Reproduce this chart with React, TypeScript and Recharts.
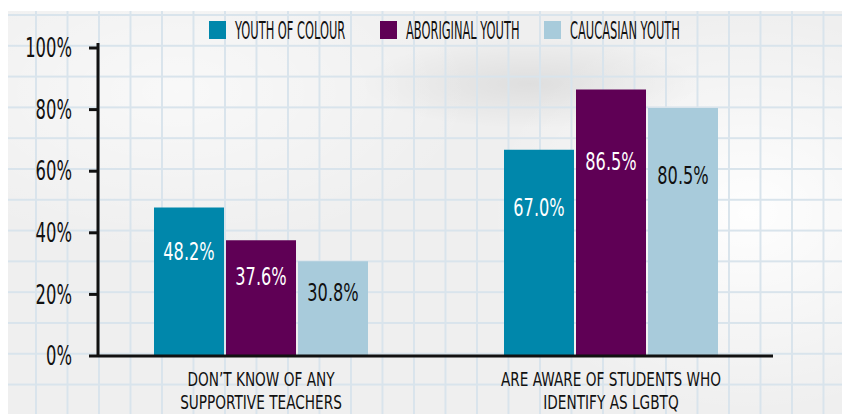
import React from "react";
import { Bar, BarChart, LabelList, Legend, XAxis, YAxis } from "recharts";

const categories = [
  "DON’T KNOW OF ANY\nSUPPORTIVE TEACHERS",
  "ARE AWARE OF STUDENTS WHO\nIDENTIFY AS LGBTQ"
];
const youthOfColour = [48.2, 67.0];
const aboriginalYouth = [37.6, 86.5];
const caucasianYouth = [30.8, 80.5];
const seriesNames = ["YOUTH OF COLOUR", "ABORIGINAL YOUTH", "CAUCASIAN YOUTH"];
const yTicks = [0, 20, 40, 60, 80, 100];

const data = categories.map((category, i) => ({
  category,
  colour: youthOfColour[i],
  aboriginal: aboriginalYouth[i],
  caucasian: caucasianYouth[i]
}));

const FONT = '"Liberation Sans Narrow", "DejaVu Sans Condensed", "Open Sans", sans-serif';
const INK = "#111";

const legendX = [201, 372, 536];

function renderLegend(props: any): React.ReactElement {
  // keep the series order instead of the alphabetical one
  const items = [...(props.payload || [])].sort(
    (a: any, b: any) => seriesNames.indexOf(a.value) - seriesNames.indexOf(b.value)
  );
  return (
    <svg width={765} height={25} style={{ display: "block", overflow: "visible" }}>
      {items.map((item: any, i: number) => (
        <g key={item.value} transform={`translate(${legendX[i]},0)`}>
          <rect x={0} y={3} width={17} height={18} fill={item.color} />
          <text
            x={0}
            y={21}
            transform="translate(26,0) scale(0.53,1)"
            fontSize={24}
            fontFamily={FONT}
            fill={INK}
          >
            {item.value}
          </text>
        </g>
      ))}
    </svg>
  );
}

function CategoryTick(props: any): React.ReactElement {
  const { x, y, payload } = props;
  const lines = String(payload.value).split("\n");
  return (
    <g transform={`translate(${x},${y}) scale(0.76,1)`}>
      {lines.map((line, i) => (
        <text
          key={i}
          x={0}
          y={30 + i * 23}
          textAnchor="middle"
          fontSize={20}
          fontFamily={FONT}
          fill={INK}
        >
          {line}
        </text>
      ))}
    </g>
  );
}

function PercentTick(props: any): React.ReactElement {
  const { x, y, payload } = props;
  return (
    <g transform={`translate(${x},${y}) scale(0.7,1)`}>
      <text x={0} y={0} textAnchor="end" dominantBaseline="central" fontSize={26} fontFamily={FONT} fill={INK}>
        {`${payload.value}%`}
      </text>
    </g>
  );
}

function valueLabel(color: string) {
  return (props: any) => {
    const { x, y, width, height, value } = props;
    const cx = x + width / 2;
    const cy = y + 8 + height * 0.24;
    return (
      <g transform={`translate(${cx},${cy}) scale(0.72,1)`}>
        <text
          x={0}
          y={0}
          textAnchor="middle"
          dominantBaseline="central"
          fontSize={25}
          fontFamily={FONT}
          fill={color}
        >
          {`${Number(value).toFixed(1)}%`}
        </text>
      </g>
    );
  };
}

const paperStyle: React.CSSProperties = {
  position: "absolute",
  top: 3,
  left: 0,
  right: 0,
  bottom: 0,
  backgroundColor: "#efefef",
  backgroundImage: [
    "linear-gradient(to right, #d9e4ec 2px, transparent 2px)",
    "linear-gradient(to bottom, #d9e4ec 2px, transparent 2px)",
    "radial-gradient(ellipse 170px 45px at 62% 18%, rgba(0,0,0,0.07), transparent)",
    "radial-gradient(ellipse 260px 200px at 88% 50%, rgba(255,255,255,0.95), transparent)",
    "radial-gradient(ellipse 300px 160px at 20% 20%, rgba(255,255,255,0.6), transparent)"
  ].join(", "),
  backgroundSize: "31.5px 100%, 100% 30.8px, 100% 100%, 100% 100%, 100% 100%",
  backgroundPosition: "27px 0, 0 3px, 0 0, 0 0, 0 0"
};

export default function App(): React.ReactElement {
  return (
    <div style={{ position: "relative", width: 842, height: 406, background: "#fff" }}>
      <div style={paperStyle} />
      <div style={{ position: "absolute", top: 0, left: 0 }}>
        <BarChart
          width={842}
          height={406}
          data={data}
          margin={{ top: 10, right: 77, left: 0, bottom: 0 }}
          barGap={2}
        >
          <Legend verticalAlign="top" align="left" content={renderLegend} />
          <XAxis
            dataKey="category"
            height={58}
            interval={0}
            tickLine={false}
            tickSize={0}
            tickMargin={0}
            axisLine={{ stroke: INK, strokeWidth: 3 }}
            tick={<CategoryTick />}
            padding={{ left: -12, right: -13 }}
          />
          <YAxis
            width={90}
            domain={[0, 100]}
            ticks={yTicks}
            interval={0}
            axisLine={{ stroke: INK, strokeWidth: 3 }}
            tickLine={{ stroke: INK, strokeWidth: 3 }}
            tickSize={9}
            tickMargin={17}
            tick={<PercentTick />}
            padding={{ top: 5, bottom: 0 }}
          />
          <Bar dataKey="colour" name={seriesNames[0]} fill="#0087ab" barSize={70} isAnimationActive={false}>
            <LabelList dataKey="colour" content={valueLabel("#fff")} />
          </Bar>
          <Bar dataKey="aboriginal" name={seriesNames[1]} fill="#5f0055" barSize={70} isAnimationActive={false}>
            <LabelList dataKey="aboriginal" content={valueLabel("#fff")} />
          </Bar>
          <Bar dataKey="caucasian" name={seriesNames[2]} fill="#a8cbdb" barSize={70} isAnimationActive={false}>
            <LabelList dataKey="caucasian" content={valueLabel(INK)} />
          </Bar>
        </BarChart>
      </div>
    </div>
  );
}
